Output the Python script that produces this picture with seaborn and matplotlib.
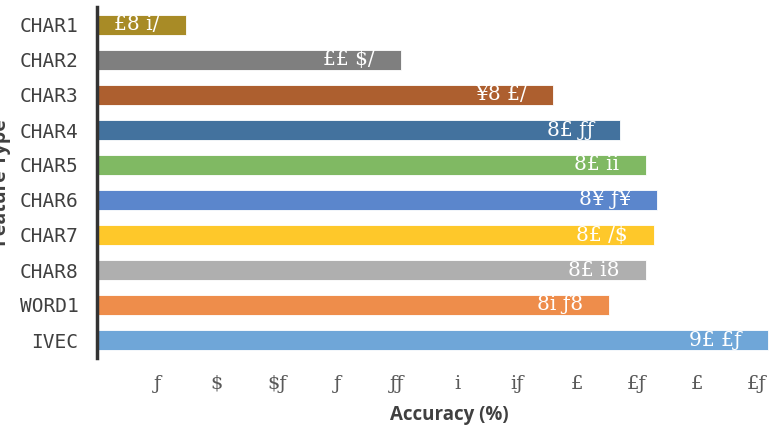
import pandas as pd
import matplotlib
matplotlib.use("Agg")
import matplotlib.pyplot as plt
import seaborn as sns

features = ["CHAR1", "CHAR2", "CHAR3", "CHAR4", "CHAR5",
            "CHAR6", "CHAR7", "CHAR8", "WORD1", "IVEC"]
accuracy = [7.4, 25.3, 38.0, 43.6, 45.75, 46.7, 46.45, 45.75, 42.7, 55.9]
value_labels = ["£8 i/", "££ $/", "¥8 £/", "8£ ƒƒ", "8£ ii",
                "8¥ ƒ¥", "8£ /$", "8£ i8", "8i ƒ8", "9£ £ƒ"]
bar_colors = ["#a88b26", "#7f7f7f", "#ad5f2f", "#43729e", "#80b963",
              "#5b86cc", "#fec82a", "#afafaf", "#ee8d4b", "#6fa6d8"]
tick_values = [5, 10, 15, 20, 25, 30, 35, 40, 45, 50, 55]
tick_labels = ["ƒ", "$", "$ƒ", "ƒ", "ƒƒ", "i", "iƒ", "£", "£ƒ", "£", "£ƒ"]

df = pd.DataFrame({"feature": features, "accuracy": accuracy})

sns.set_style("white")
fig = plt.figure(figsize=(7.73, 4.28), dpi=100)
ax = fig.add_axes([97 / 773, 1 - 357.5 / 428, 676 / 773, 350 / 428])

sns.barplot(data=df, x="accuracy", y="feature", hue="feature",
            palette=bar_colors, orient="h", width=0.57, legend=False,
            saturation=1, ax=ax)

for bar in ax.patches:
    bar.set_edgecolor("white")
    bar.set_linewidth(0.6)

# value labels inside the bar ends
for cont, lab in zip(ax.containers, value_labels):
    texts = ax.bar_label(cont, labels=[lab], padding=-19, color="white",
                         fontsize=14.5, family="DejaVu Serif")
    for t in texts:
        t.set_ha("right")

ax.set_xlim(0, 676 / 12)
ax.set_xticks(tick_values)
ax.set_xticklabels(tick_labels, family="DejaVu Serif", fontsize=14, color="#595959")
ax.tick_params(axis="x", length=0, pad=12.5)
ax.tick_params(axis="y", length=0, pad=13.5, labelsize=14, labelcolor="#404040")
for t in ax.get_yticklabels():
    t.set_family("DejaVu Sans Mono")

for side in ["top", "right", "bottom"]:
    ax.spines[side].set_visible(False)
ax.spines["left"].set_color("#333333")
ax.spines["left"].set_linewidth(2.5)

ax.set_xlabel("Accuracy (%)", fontsize=13.5, fontweight="bold", color="#404040",
              family="Open Sans")
ax.xaxis.set_label_coords(0.521, -0.137)
ax.set_ylabel("Feature Type", fontsize=14, fontweight="bold", color="#404040",
              family="Open Sans")
ax.yaxis.set_label_coords(-0.127, 0.5)

fig.savefig("out.png", dpi=100)
